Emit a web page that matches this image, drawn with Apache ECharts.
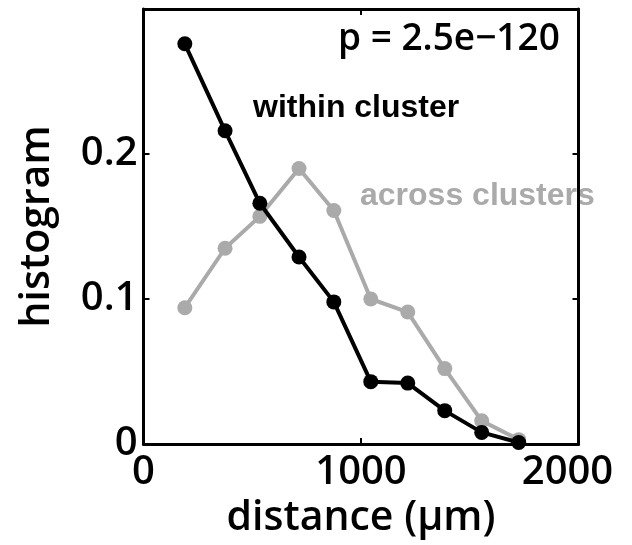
<!DOCTYPE html>
<html><head><meta charset="utf-8">
<script src="https://cdn.jsdelivr.net/npm/echarts@6/dist/echarts.min.js"></script>
<style>html,body{margin:0;padding:0;background:#fff}#c{width:632px;height:545px}</style>
</head><body><div id="c"></div>
<script>
const distances = [190, 375, 535, 715, 875, 1045, 1215, 1385, 1555, 1725];
const withinCluster = [0.276, 0.216, 0.166, 0.129, 0.098, 0.043, 0.042, 0.023, 0.008, 0.001];
const acrossClusters = [0.094, 0.135, 0.157, 0.190, 0.161, 0.100, 0.091, 0.052, 0.016, 0.003];
const xTicks = [0, 1000, 2000];
const yTicks = [0, 0.1, 0.2];
const FONT = '"Open Sans", "Noto Sans", sans-serif';

const chart = echarts.init(document.getElementById('c'));
const pair = (xs, ys) => xs.map((x, i) => [x, ys[i]]);
const axisCommon = {
  type: 'value',
  axisLine: { show: true, onZero: false, lineStyle: { color: '#000', width: 3 } },
  axisTick: { show: true, inside: true, length: 6, lineStyle: { color: '#000', width: 2 } },
  splitLine: { show: false }
};
chart.setOption({
  animation: false,
  grid: { left: 143.5, right: 53.5, top: 9, bottom: 101 },
  xAxis: [
    Object.assign({}, axisCommon, {
      position: 'bottom', min: 0, max: 2000, interval: 1000,
      axisLabel: { fontSize: 40, fontWeight: 600, color: '#000', fontFamily: FONT, margin: 9,
        formatter: v => xTicks.includes(v) ? (v === 2000 ? '{r|2000}' : String(v)) : '',
        rich: { r: { fontSize: 40, fontWeight: 600, color: '#000', fontFamily: FONT, padding: [0, 22, 0, 0] } } },
      name: 'distance (\u00b5m)', nameLocation: 'middle', nameGap: 47,
      nameTextStyle: { fontSize: 41, fontWeight: 600, color: '#000', fontFamily: FONT }
    }),
    Object.assign({}, axisCommon, {
      position: 'top', min: 0, max: 2000, interval: 1000, axisLabel: { show: false }
    })
  ],
  yAxis: [
    Object.assign({}, axisCommon, {
      position: 'left', min: 0, max: 0.3, interval: 0.1,
      axisLabel: { fontSize: 40, fontWeight: 600, color: '#000', fontFamily: FONT, margin: 6,
        formatter: v => { const t = yTicks.find(y => Math.abs(y - v) < 1e-9); return t === undefined ? '' : String(t); } },
      name: 'histogram', nameLocation: 'middle', nameGap: 86, nameRotate: 90,
      nameTextStyle: { fontSize: 41, fontWeight: 600, color: '#000', fontFamily: FONT }
    }),
    Object.assign({}, axisCommon, {
      position: 'right', min: 0, max: 0.3, interval: 0.1, axisLabel: { show: false }
    })
  ],
  series: [
    { type: 'line', name: 'across clusters', data: pair(distances, acrossClusters),
      symbol: 'circle', symbolSize: 15, z: 2,
      lineStyle: { color: '#aaaaaa', width: 4 }, itemStyle: { color: '#aaaaaa' } },
    { type: 'line', name: 'within cluster', data: pair(distances, withinCluster),
      symbol: 'circle', symbolSize: 15, z: 3,
      lineStyle: { color: '#000', width: 4 }, itemStyle: { color: '#000' } }
  ],
  graphic: [
    { type: 'text', left: 338, top: 21, style: { text: 'p = 2.5e\u2212120', font: '600 37px ' + FONT, fill: '#000' } },
    { type: 'text', left: 253, top: 92, style: { text: 'within cluster', font: 'bold 32px "Liberation Sans", Arial, sans-serif', fill: '#000' } },
    { type: 'text', left: 360, top: 180, style: { text: 'across clusters', font: 'bold 32px "Liberation Sans", Arial, sans-serif', fill: '#aaaaaa' } }
  ]
});
</script></body></html>
